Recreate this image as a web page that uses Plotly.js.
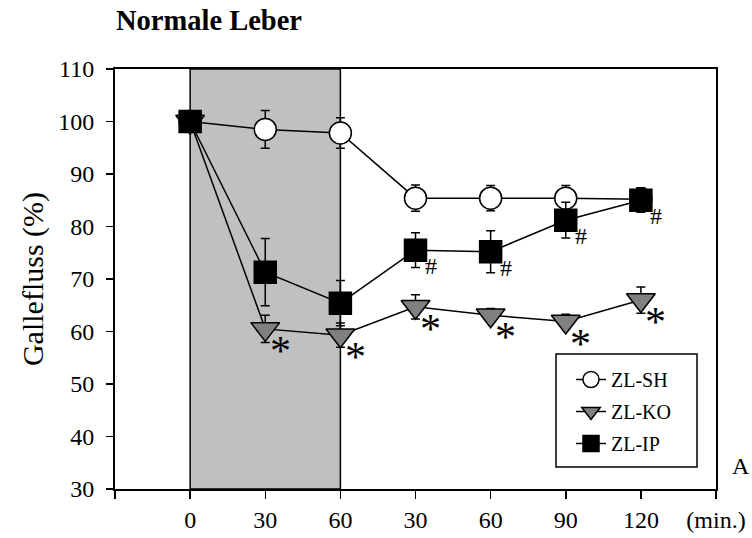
<!DOCTYPE html>
<html>
<head>
<meta charset="utf-8">
<script src="https://cdn.plot.ly/plotly-3.0.1.min.js"></script>
<style>
  html, body { margin: 0; padding: 0; background: #ffffff; }
  #chart { width: 752px; height: 538px; }
</style>
</head>
<body>
<div id="chart"></div>
<script>
// Time points: ischaemia phase (0-60) followed by reperfusion (30-120)
const timeLabels = ['0', '30', '60', '30', '60', '90', '120'];
const unitLabel = '(min.)';

// Bile flow in % of baseline, mean and error per group
const shMean = [100, 98.5, 97.8, 85.4, 85.4, 85.4, 85.2];
const shErr  = [0.8, 3.6, 2.9, 2.5, 2.4, 2.4, 2.2];

const koMean = [100, 60.5, 59.3, 64.7, 63.1, 61.9, 66.0];
const koErr  = [0.5, 2.6, 2.3, 2.3, 1.3, 1.4, 2.5];

const ipMean = [100, 71.3, 65.4, 75.5, 75.2, 81.2, 85.0];
const ipErr  = [0.5, 6.4, 4.3, 3.3, 4.0, 3.4, 2.3];

// Significance marks: index of time point
const koStars = [1, 2, 3, 4, 5, 6];
const ipHashes = [3, 4, 5, 6];

const groupNames = ['ZL-SH', 'ZL-KO', 'ZL-IP'];

const xPos = timeLabels.map((_, i) => i);
const serif = 'Liberation Serif, Times New Roman, serif';

function errorBars(arr) {
  return { type: 'data', array: arr, visible: true, color: '#000', thickness: 1.5, width: 4.5 };
}

const traces = [
  {
    x: xPos, y: shMean, name: groupNames[0], legendgroup: 'sh', mode: 'lines+markers',
    line: { color: '#000', width: 1.5 },
    marker: { symbol: 'circle', size: 22, color: '#ffffff', line: { color: '#000', width: 1.5 } },
    error_y: errorBars(shErr)
  },
  {
    x: xPos, y: koMean, name: groupNames[1], legendgroup: 'ko', mode: 'lines+markers',
    line: { color: '#000', width: 1.5 },
    marker: { symbol: 'triangle-down', size: 25, color: '#808080', line: { color: '#000', width: 1.5 } },
    error_y: errorBars(koErr)
  },
  {
    x: xPos, y: ipMean, name: groupNames[2], legendgroup: 'ip', mode: 'lines+markers',
    line: { color: '#000', width: 1.5 },
    marker: { symbol: 'square', size: 22, color: '#000', line: { color: '#000', width: 1.5 } },
    error_y: errorBars(ipErr)
  }
];

const annotations = [];
koStars.forEach(i => annotations.push({
  x: xPos[i], y: koMean[i], xref: 'x', yref: 'y', text: '*', showarrow: false,
  xshift: 15, yshift: -22, font: { family: serif, size: 42, color: '#000' }
}));
ipHashes.forEach(i => annotations.push({
  x: xPos[i], y: ipMean[i], xref: 'x', yref: 'y', text: '#', showarrow: false,
  xshift: 15, yshift: -16, font: { family: serif, size: 24, color: '#000' }
}));
annotations.push({
  xref: 'paper', yref: 'paper', x: 1.0599, y: 0.055, xanchor: 'right', yanchor: 'middle',
  text: 'A', showarrow: false, font: { family: serif, size: 24, color: '#000' }
});

const tickVals = [-1].concat(xPos, [xPos.length]);
const tickText = [''].concat(timeLabels, [unitLabel]);

// plot area in pixels: x 115..716, y 69..489
const px = v => (v - 115) / 601;
const py = v => (489 - v) / 420;

const layout = {
  width: 752, height: 538,
  margin: { l: 115, r: 36, t: 69, b: 49 },
  paper_bgcolor: '#fff', plot_bgcolor: '#fff',
  font: { family: serif, color: '#000' },
  title: {
    text: '<b>Normale Leber</b>',
    xref: 'container', yref: 'container',
    x: 116 / 752, xanchor: 'left', y: 1 - 10 / 538, yanchor: 'top',
    font: { family: serif, size: 28.5, color: '#000' }
  },
  showlegend: true,
  legend: {
    x: px(571), y: py(360), xanchor: 'left', yanchor: 'top',
    bgcolor: 'rgba(0,0,0,0)', borderwidth: 0,
    font: { family: serif, size: 20, color: '#000' },
    traceorder: 'grouped', tracegroupgap: 3
  },
  xaxis: {
    range: [-1, 7], tickmode: 'array', tickvals: tickVals, ticktext: tickText,
    showgrid: false, zeroline: false, showline: true, linecolor: '#000', linewidth: 2,
    mirror: true, ticks: 'outside', ticklen: 8, tickwidth: 1.5, tickcolor: '#000',
    tickfont: { family: serif, size: 24, color: '#000' }, fixedrange: true
  },
  yaxis: {
    range: [30, 110], tickmode: 'array', tickvals: [30, 40, 50, 60, 70, 80, 90, 100, 110],
    showgrid: false, zeroline: false, showline: true, linecolor: '#000', linewidth: 2,
    mirror: true, ticks: 'outside', ticklen: 7, tickwidth: 1.5, tickcolor: '#000',
    ticklabelstandoff: 7,
    tickfont: { family: serif, size: 24, color: '#000' },
    title: { text: 'Gallefluss (%)', standoff: 6, font: { family: serif, size: 30, color: '#000' } },
    fixedrange: true
  },
  shapes: [
    {
      // ischaemia period shading
      type: 'rect', xref: 'x', yref: 'y', x0: 0, x1: 2, y0: 30, y1: 110,
      fillcolor: '#c0c0c0', line: { color: '#000', width: 1.5 }, layer: 'below'
    },
    {
      // legend frame
      type: 'rect', xref: 'paper', yref: 'paper', x0: px(556), x1: px(697), y0: py(467), y1: py(354),
      fillcolor: '#fff', line: { color: '#000', width: 1.5 }, layer: 'below'
    }
  ],
  annotations: annotations
};

Plotly.newPlot('chart', traces, layout, { displayModeBar: false, staticPlot: true });
</script>
</body>
</html>
